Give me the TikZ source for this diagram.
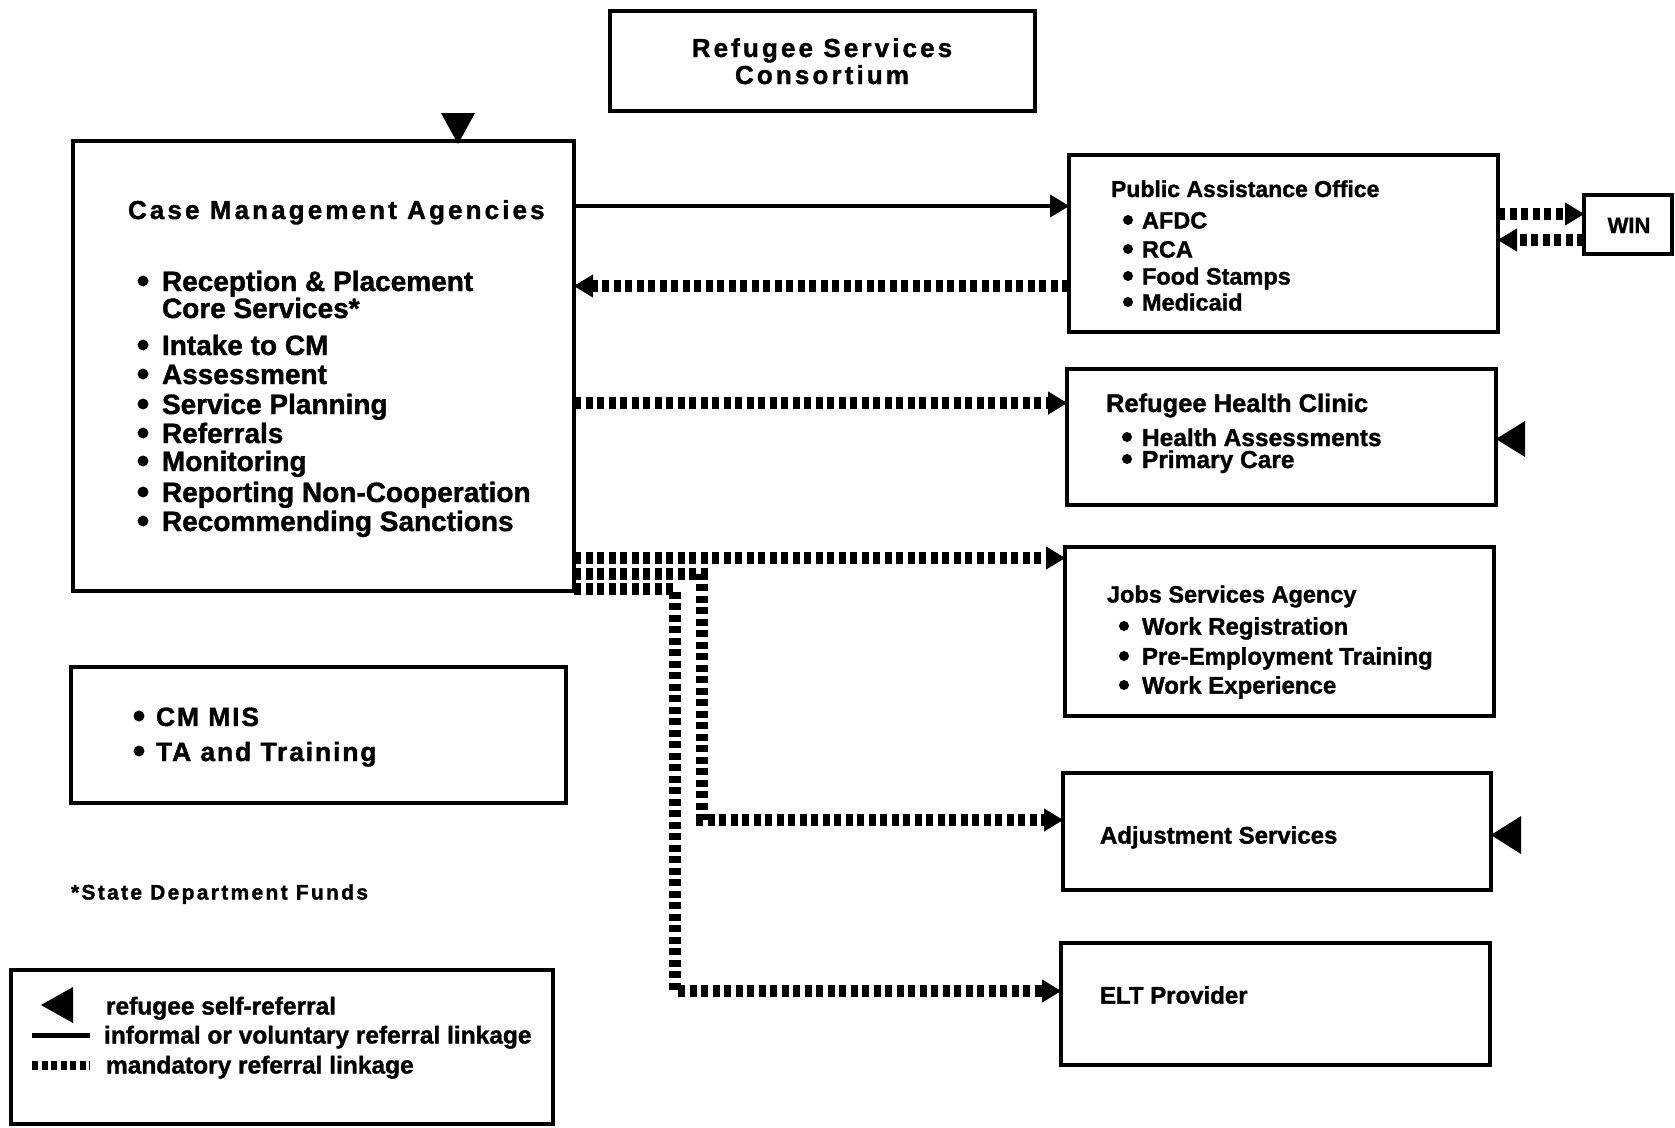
\documentclass[tikz,border=0pt]{standalone}
\usepackage{fontspec}
\setmainfont{Liberation Sans}[BoldFeatures={FakeBold=1.3}]
\newfontfamily\wideA{Liberation Sans}[LetterSpace=12,BoldFeatures={FakeBold=1.3}]
\newfontfamily\wideB{Liberation Sans}[LetterSpace=7,BoldFeatures={FakeBold=1.3}]
\newfontfamily\wideC{Liberation Sans}[LetterSpace=11,BoldFeatures={FakeBold=1.3}]
\usetikzlibrary{arrows.meta}
\newcommand\fsz[1]{\fontsize{#1}{#1}\selectfont}

\begin{document}
\begin{tikzpicture}[x=1pt,y=-1pt,
  every node/.style={inner sep=0pt, outer sep=0pt},
  box/.style={draw, line width=3.5pt, anchor=north west},
  txt/.style={anchor=base west},
  head/.style={txt, font=\wideA\bfseries\fsz{26}},
  item/.style={txt, font=\bfseries\fsz{#1}},
  >={Triangle[length=19pt,width=23pt,line width=0.4pt]},
  informal/.style={line width=3.5pt, ->},
  mandatory/.style={line width=11.5pt, dash pattern=on 7pt off 4.5pt, ->},
  bul/.style={fill=black}
]
\fill[white] (0,0) rectangle (1675,1127);
\useasboundingbox (0,0) rectangle (1675,1127);

% ---- boxes ----
\node[box, minimum width=425pt, minimum height=100pt] (rsc) at (610,11) {};
\node[box, line width=4pt, minimum width=501pt, minimum height=450pt] (cm) at (73,141) {};
\node[box, minimum width=495pt, minimum height=136pt] (mis) at (71,667) {};
\node[box, minimum width=542pt, minimum height=154pt] (legend) at (11,970) {};
\node[box, minimum width=429pt, minimum height=177pt] (pa) at (1069,155) {};
\node[box, minimum width=88pt, minimum height=59pt] (win) at (1584,195) {};
\node[box, minimum width=429pt, minimum height=136pt] (rhc) at (1067,369) {};
\node[box, minimum width=429pt, minimum height=169pt] (jobs) at (1065,547) {};
\node[box, minimum width=428pt, minimum height=117pt] (adj) at (1063,773) {};
\node[box, minimum width=429pt, minimum height=122pt] (elt) at (1061,943) {};

% ---- consortium ----
\node[head, anchor=base] (rsc1) at (822,57) {Refugee Services};
\node[head, anchor=base] (rsc2) at (822,84) {Consortium};

% ---- case management agencies ----
\node[head] (cmt) at (128,219) {Case Management Agencies};
\node[item=28] (cm1) at (162,291) {Reception \& Placement};
\node[item=28] (cm1b) at (162,318) {Core Services*};
\node[item=28] (cm2) at (162,355) {Intake to CM};
\node[item=28] (cm3) at (162,384) {Assessment};
\node[item=28] (cm4) at (162,414) {Service Planning};
\node[item=28] (cm5) at (162,443) {Referrals};
\node[item=28] (cm6) at (162,471) {Monitoring};
\node[item=28] (cm7) at (162,502) {Reporting Non-Cooperation};
\node[item=28] (cm8) at (162,531) {Recommending Sanctions};
\foreach \y in {281,345,374,404,433,461,492,521}
  \fill[bul] (143,\y) circle (5.5pt);

% ---- CM MIS ----
\node[txt, font=\wideB\bfseries\fsz{26.5}] (mis1) at (156,726) {CM MIS};
\node[txt, font=\wideB\bfseries\fsz{26.5}] (mis2) at (156,761) {TA and Training};
\foreach \y in {716,751}
  \fill[bul] (139,\y) circle (5.5pt);

% ---- footnote ----
\node[txt, font=\wideC\bfseries\fsz{21}] (fn) at (71,899.5) {*State Department Funds};

% ---- public assistance office ----
\node[item=23] (pat) at (1111,197) {Public Assistance Office};
\node[item=23.5] (pa1) at (1142,228.5) {AFDC};
\node[item=23.5] (pa2) at (1142,257.5) {RCA};
\node[item=23.5] (pa3) at (1142,284.5) {Food Stamps};
\node[item=23.5] (pa4) at (1142,310.5) {Medicaid};
\foreach \y in {220,249,276,302}
  \fill[bul] (1128,\y) circle (5pt);

\node[item=22, anchor=base] (wint) at (1629,233) {WIN};

% ---- refugee health clinic ----
\node[item=25.5] (rhct) at (1106,412) {Refugee Health Clinic};
\node[item=24.5] (rhc1) at (1142,446) {Health Assessments};
\node[item=24.5] (rhc2) at (1142,468) {Primary Care};
\foreach \y in {437,459}
  \fill[bul] (1127,\y) circle (5pt);

% ---- jobs services agency ----
\node[item=23.5] (jobst) at (1107,602.5) {Jobs Services Agency};
\node[item=24] (jobs1) at (1142,634.6) {Work Registration};
\node[item=24] (jobs2) at (1142,664.6) {Pre-Employment Training};
\node[item=24] (jobs3) at (1142,693.6) {Work Experience};
\foreach \y in {626,656,685}
  \fill[bul] (1124,\y) circle (5pt);

\node[item=24] (adjt) at (1100,843.6) {Adjustment Services};
\node[item=24] (eltt) at (1100,1003.6) {ELT Provider};

% ---- connector rows ----
\coordinate (r0) at (0,206);
\coordinate (r1) at (0,286);
\coordinate (r2) at (0,403);
\coordinate (r3) at (0,558);
\coordinate (r4) at (0,574);
\coordinate (r5) at (0,589);
\coordinate (r6) at (0,820);
\coordinate (r7) at (0,991);
\coordinate (v1) at (702,0);
\coordinate (v2) at (675,0);
\coordinate (w1) at (0,214);
\coordinate (w2) at (0,240);

\draw[informal] (cm.east |- r0) -- (pa.west |- r0);
\draw[mandatory] (pa.west |- r1) -- (cm.east |- r1);
\draw[mandatory] (cm.east |- r2) -- (rhc.west |- r2);
\draw[mandatory] (cm.east |- r3) -- (jobs.west |- r3);
\draw[mandatory] (cm.east |- r4) -- (v1 |- r4) -- (v1 |- r6) -- (adj.west |- r6);
\draw[mandatory] (cm.east |- r5) -- (v2 |- r5) -- (v2 |- r7) -- (elt.west |- r7);
\draw[mandatory] (pa.east |- w1) -- (win.west |- w1);
\draw[mandatory] (win.west |- w2) -- (pa.east |- w2);

% ---- self-referral markers ----
\fill (458,144) -- (441,113) -- (475,113) -- cycle;
\fill (1496,439) -- (1525,421) -- (1525,457) -- cycle;
\fill (1491,835) -- (1521,816) -- (1521,854) -- cycle;

% ---- legend ----
\fill (41,1005) -- (73,987) -- (73,1023) -- cycle;
\coordinate (la) at (32,1035);
\coordinate (lb) at (90,1035);
\coordinate (lc) at (32,1065);
\coordinate (ld) at (90,1065);
\draw[line width=5pt] (la) -- (lb);
\draw[line width=9pt, dash pattern=on 6pt off 3.5pt] (lc) -- (ld);
\node[item=24.5] (leg1) at (106,1014.5) {refugee self-referral};
\node[item=24.5] (leg2) at (104,1043.5) {informal or voluntary referral linkage};
\node[item=24.5] (leg3) at (106,1073.5) {mandatory referral linkage};
\end{tikzpicture}
\end{document}
